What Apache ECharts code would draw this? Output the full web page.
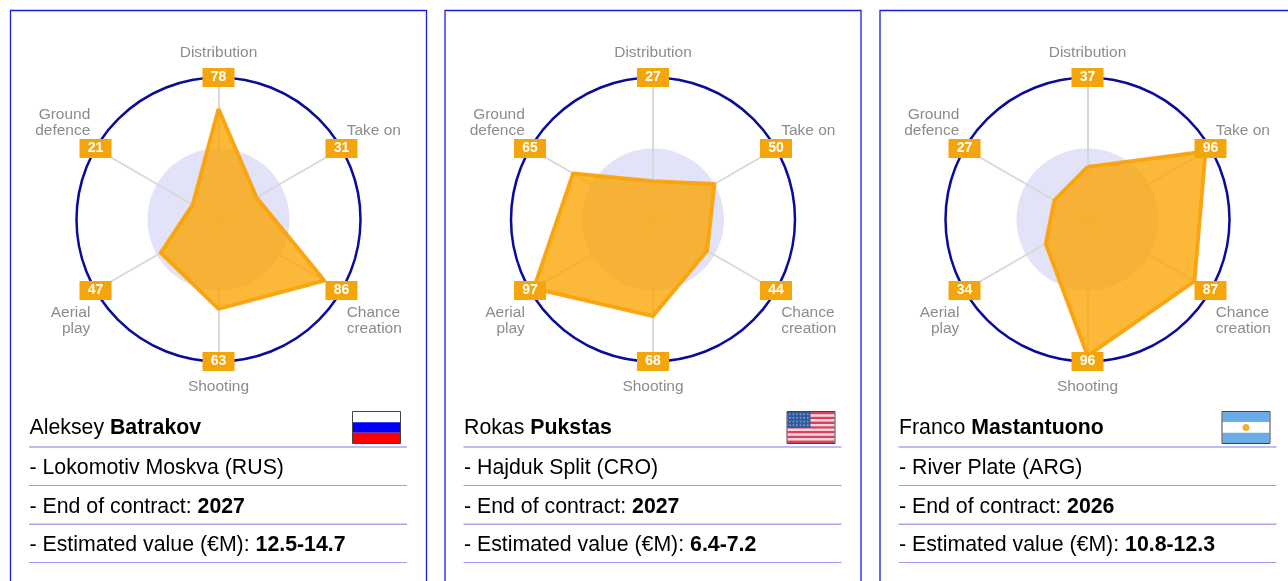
<!DOCTYPE html>
<html><head><meta charset="utf-8">
<style>html,body{margin:0;padding:0;background:#fff}#c{width:1288px;height:581px}</style>
<script src="https://cdn.jsdelivr.net/npm/echarts@6/dist/echarts.min.js"></script>
</head><body><div id="c"></div>
<script>
const axes = ['Distribution','Take on','Chance\ncreation','Shooting','Aerial\nplay','Ground\ndefence'];
const batrakov = [78,31,86,63,47,21];
const pukstas = [27,50,44,68,97,65];
const mastantuono = [37,96,87,96,34,27];
const rim = [100,100,100,100,100,100];
const firstNames = ['Aleksey','Rokas','Franco'];
const lastNames = ['Batrakov','Pukstas','Mastantuono'];
const clubs = ['Lokomotiv Moskva (RUS)','Hajduk Split (CRO)','River Plate (ARG)'];
const contracts = ['2027','2027','2026'];
const estValues = ['12.5-14.7','6.4-7.2','10.8-12.3'];
const players = [batrakov,pukstas,mastantuono];
const cardX = [10.5,445,880];
const radarCx = [218.5,653,1087.5];

// ECharts walks indicators counter-clockwise; the chart reads clockwise from the top
const cw = a => [a[0],...a.slice(1).reverse()];

const FONT = '"Liberation Sans",Arial,sans-serif';
const nameStyle = {color:'#8c8c8c',fontFamily:FONT,fontSize:15.5,lineHeight:16};
// spacer height above (+) or below (-) each axis name, nudging it off the rim
const nameSpacer = {
  'Distribution':-11,'Shooting':11,
  'Take on':-30,'Ground\ndefence':-46,
  'Chance\ncreation':54,'Aerial\nplay':54
};
const nameRich = {t:Object.assign({},nameStyle)};
Object.keys(nameSpacer).forEach(k=>{
  const h=Math.abs(nameSpacer[k]);
  nameRich['s'+h]={fontSize:1,height:h,lineHeight:h,color:'rgba(0,0,0,0)'};
});
const nameFmt = name => {
  const sp = nameSpacer[name], tok = `{s${Math.abs(sp)}|\u00a0}`;
  const lines = name.split('\n').map(s=>`{t|${s}}`);
  return (sp>0 ? [tok,...lines] : [...lines,tok]).join('\n');
};

const radar = [], series = [], graphic = [];
const rect = (x,y,w,h,fill,extra) => Object.assign({type:'rect',shape:{x,y,width:w,height:h},style:{fill},silent:true,z:5},extra||{});
function hline(x,y,w,h,fill){graphic.push(rect(x,y,w,h,fill));}

function flag(i,x,y){
  const w=47,h=31;
  if(i===0){
    graphic.push(rect(x,y,w,h/3,'#ffffff'),rect(x,y+h/3,w,h/3,'#0000ff'),rect(x,y+2*h/3,w,h/3,'#ff0000'));
  } else if(i===1){
    for(let s=0;s<13;s++) graphic.push(rect(x,y+s*h/13,w,h/13,s%2?'#f6d8dc':'#d8405f'));
    graphic.push(rect(x,y,23,16,'#2f5c9c'));
    for(let r=0;r<4;r++)for(let c=0;c<6;c++) graphic.push(rect(x+1.5+c*3.6,y+1.5+r*3.6,1.6,1.6,'#7f9cc8'));
  } else {
    graphic.push(rect(x,y,w,h/3,'#6cace4'),rect(x,y+h/3,w,h/3,'#ffffff'),rect(x,y+2*h/3,w,h/3,'#6cace4'));
    graphic.push({type:'circle',shape:{cx:x+w/2,cy:y+h/2,r:3.5},style:{fill:'#f0b030'},silent:true,z:6});
  }
  graphic.push({type:'rect',shape:{x:x-.5,y:y-.5,width:w+1,height:h+1},style:{fill:'none',stroke:'#444',lineWidth:1},silent:true,z:6});
}

players.forEach((vals,i)=>{
  const x0=cardX[i], tx=x0+19, shown=cw(vals);
  graphic.push({type:'rect',shape:{x:x0,y:10.5,width:416,height:600},style:{fill:'none',stroke:'#1a1aee',lineWidth:1.3},silent:true,z:0});
  radar.push({
    center:[radarCx[i],219.5], radius:142, startAngle:90, splitNumber:2,
    indicator:cw(axes).map(n=>({name:n,min:0,max:100})),
    shape:'circle', nameGap:6,
    axisName:Object.assign({formatter:nameFmt,rich:nameRich},nameStyle),
    axisLine:{lineStyle:{color:'#d8d8d8',width:2}},
    axisTick:{show:false},
    splitLine:{lineStyle:{color:['rgba(0,0,0,0)','rgba(0,0,0,0)','#0a0a9c'],width:2.5}},
    splitArea:{areaStyle:{color:['#e2e3f8','rgba(0,0,0,0)']}}
  });
  series.push({type:'radar',radarIndex:i,silent:true,z:3,symbol:'none',
    lineStyle:{color:'#f9a51e',width:3.8},
    areaStyle:{color:'#fba400',opacity:.78},
    data:[{value:shown}]});
  series.push({type:'radar',radarIndex:i,silent:true,z:4,symbol:'rect',symbolSize:[32,19],
    itemStyle:{color:'#f5a50c'},
    lineStyle:{width:0,opacity:0},
    label:{show:true,position:'inside',color:'#fff',fontFamily:FONT,fontWeight:'bold',fontSize:14,
      formatter:p=>String(shown[p.dimensionIndex])},
    data:[{value:rim}]});
  const rich={n:{fontFamily:FONT,fontSize:21.3,color:'#2a2a2a'},b:{fontFamily:FONT,fontSize:21.3,fontWeight:'bold',color:'#2a2a2a'}};
  const texts=[
    [`{n|${firstNames[i]} }{b|${lastNames[i]}}`,428.5],
    [`{n|- ${clubs[i]}}`,468],
    [`{n|- End of contract: }{b|${contracts[i]}}`,507],
    [`{n|- Estimated value (€M): }{b|${estValues[i]}}`,545]
  ];
  texts.forEach(([t,y])=>graphic.push({type:'text',x:tx,y,silent:true,z:5,
    style:{text:t,rich,verticalAlign:'middle',align:'left'}}));
  hline(x0+18.5,446,378,2,'#bdbdf0');
  hline(x0+18.5,485,378,1,'#9a9af0');
  hline(x0+18.5,523.5,378,1.5,'#a5a5f0');
  hline(x0+18.5,562,378,1,'#9a9af0');
  flag(i,x0+342.5,412);
});

echarts.init(document.getElementById('c'),null,{renderer:'canvas'}).setOption({
  animation:false,backgroundColor:'#fff',radar,series,graphic:{elements:graphic}
});
</script></body></html>
